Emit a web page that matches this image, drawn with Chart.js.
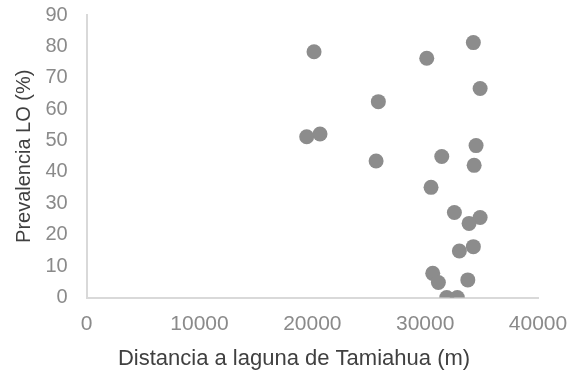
<!DOCTYPE html>
<html>
<head>
<meta charset="utf-8">
<script src="https://cdn.jsdelivr.net/npm/chart.js@4/dist/chart.umd.min.js"></script>
<style>
  html, body { margin: 0; padding: 0; background: #fff; }
  #wrap { width: 573px; height: 377px; position: relative; }
</style>
</head>
<body>
<div id="wrap"><canvas id="c"></canvas></div>
<script>
// Distance to the Tamiahua lagoon (m) for each sampled site
const distancia = [
  20150, 30140, 34270, 34870, 25850, 19500, 20680, 25650, 31470, 34510, 34340,
  30520, 32590, 34870, 33890, 33030, 34270, 30670, 31170, 33780, 31910, 32850
];
// LO prevalence (%) at the same sites
const prevalencia = [
  78.3, 76.2, 81.2, 66.6, 62.4, 51.2, 52.1, 43.5, 44.9, 48.4, 42.1,
  35.1, 27.1, 25.5, 23.6, 14.8, 16.2, 7.7, 4.8, 5.6, 0, 0
];
// Axis ranges and steps
const xTicks = { min: 0, max: 40000, step: 10000 };
const yTicks = { min: 0, max: 90, step: 10 };

const puntos = distancia.map((d, i) => ({ x: d, y: prevalencia[i] }));

const fontFamily = '"Liberation Sans", Arial, Helvetica, sans-serif';
const tickColor = '#8a8a8a';
const titleColor = '#404040';
const axisColor = '#d9d9d9';

// trailing non-breaking spaces nudge the centred x title a little to the left
const xTitle = 'Distancia a laguna de Tamiahua (m)' + '\u00a0'.repeat(6);

new Chart(document.getElementById('c'), {
  type: 'scatter',
  data: {
    datasets: [{
      data: puntos,
      backgroundColor: '#8c8c8c',
      borderWidth: 0,
      pointRadius: 7.5,
      pointHoverRadius: 7.5
    }]
  },
  options: {
    responsive: true,
    maintainAspectRatio: false,
    animation: false,
    devicePixelRatio: 1,
    layout: { padding: { top: 15, right: 35, bottom: 0, left: 0 } },
    plugins: { legend: { display: false }, tooltip: { enabled: false } },
    scales: {
      x: {
        type: 'linear',
        min: xTicks.min,
        max: xTicks.max,
        afterFit: s => { s.height = 79.5; s.paddingLeft = 0; s.paddingRight = 0; },
        grid: { display: false, drawTicks: false },
        border: { display: true, color: axisColor, width: 2 },
        ticks: {
          stepSize: xTicks.step,
          padding: 14,
          color: tickColor,
          font: { family: fontFamily, size: 21 },
          maxRotation: 0,
          callback: v => String(v)
        },
        title: {
          display: true,
          text: xTitle,
          color: titleColor,
          font: { family: fontFamily, size: 22 },
          padding: { top: 0, bottom: 5 }
        }
      },
      y: {
        type: 'linear',
        min: yTicks.min,
        max: yTicks.max,
        afterFit: s => { s.width = 86.7; s.paddingTop = 0; s.paddingBottom = 0; },
        grid: { display: false, drawTicks: false },
        border: { display: true, color: axisColor, width: 2 },
        ticks: {
          stepSize: yTicks.step,
          padding: 19,
          color: tickColor,
          font: { family: fontFamily, size: 20 },
          callback: v => String(v)
        },
        title: {
          display: true,
          text: 'Prevalencia LO (%)',
          color: titleColor,
          font: { family: fontFamily, size: 20 },
          padding: { top: 12, bottom: 0 }
        }
      }
    }
  }
});
</script>
</body>
</html>
